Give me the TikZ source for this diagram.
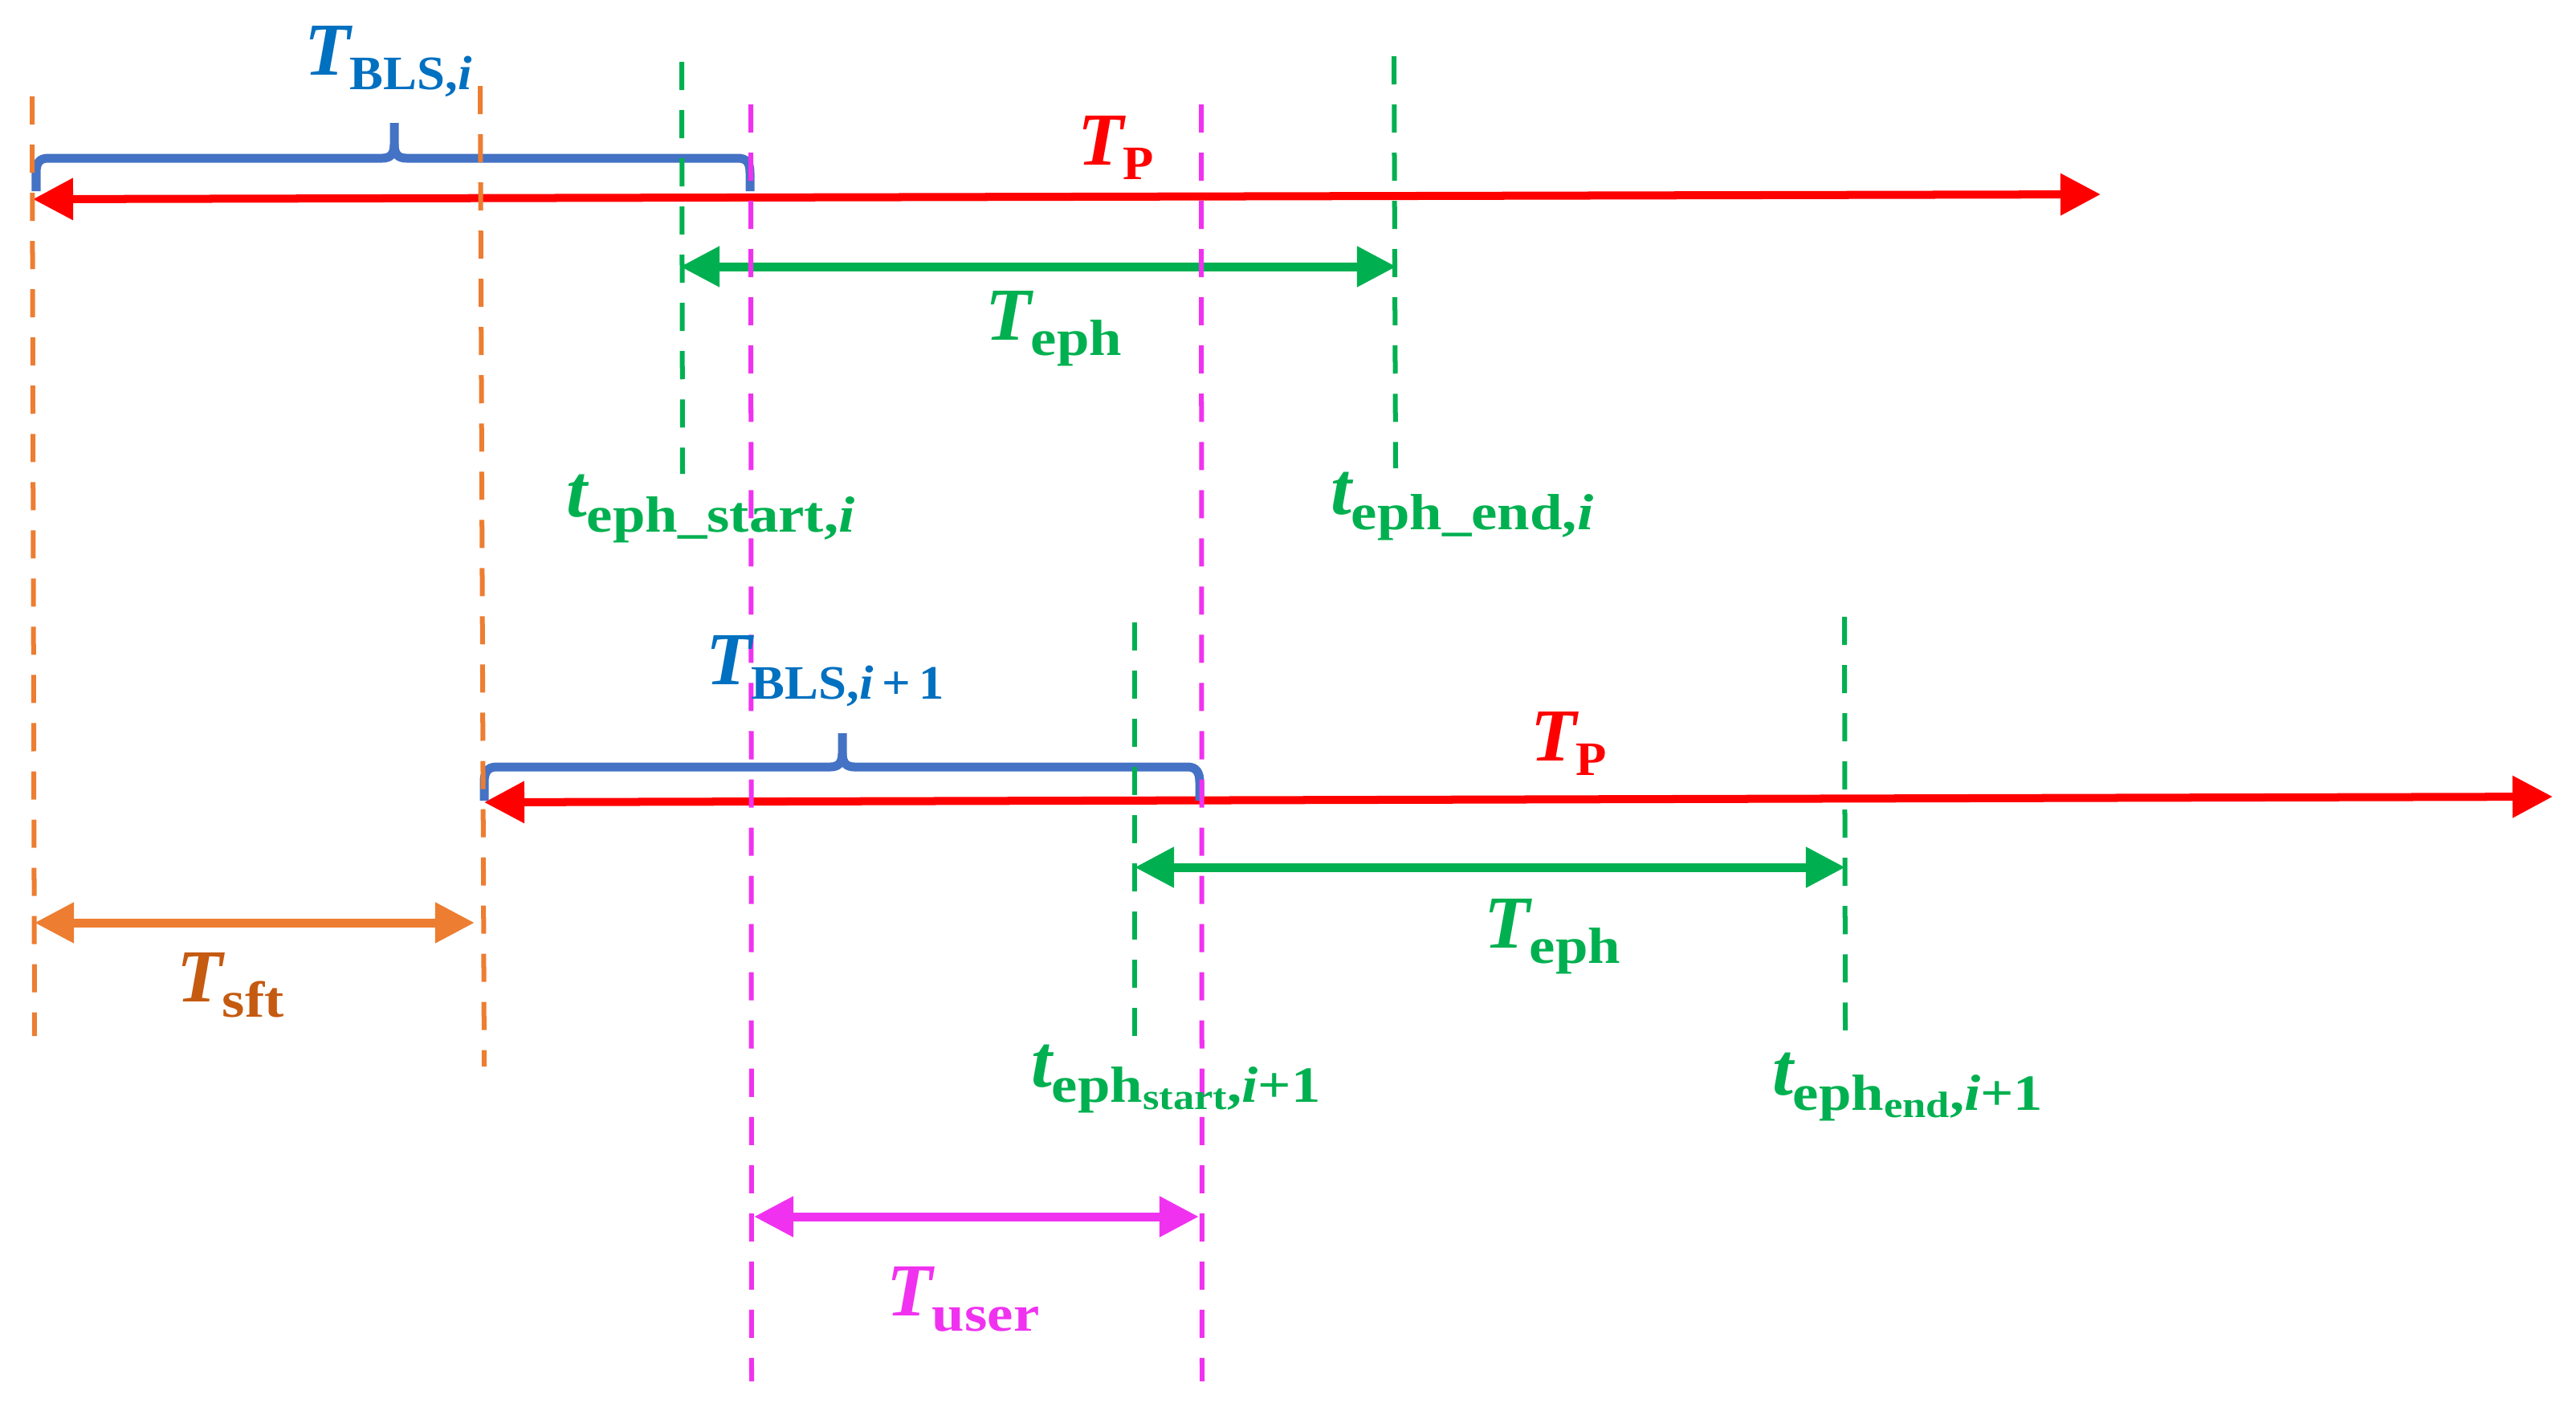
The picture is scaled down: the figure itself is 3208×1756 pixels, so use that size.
\documentclass[tikz,border=0pt]{standalone}
\usepackage{graphicx}
\usepackage{fontspec}
\setmainfont{Liberation Serif}
\usetikzlibrary{arrows.meta}
\definecolor{redc}{RGB}{255,0,0}
\definecolor{bluebr}{RGB}{68,114,196}
\definecolor{bluetx}{RGB}{0,112,192}
\definecolor{greenc}{RGB}{0,176,80}
\definecolor{orangec}{RGB}{237,125,49}
\definecolor{orangetx}{RGB}{197,90,17}
\definecolor{magc}{RGB}{240,50,240}
\newcommand\mylab[2]{{\fontsize{26.5}{30}\selectfont\bfseries\itshape #1}\raisebox{-5.3pt}{\scalebox{1.05}[1]{\fontsize{17}{20}\selectfont\bfseries #2}}}
\newcommand\mylabw[2]{{\fontsize{26.5}{30}\selectfont\bfseries\itshape #1}\raisebox{-5.5pt}{\scalebox{1.15}[1]{\fontsize{18}{21}\selectfont\bfseries #2}}}
\newcommand\mysubsub[1]{\raisebox{-2.5pt}{\fontsize{13}{15}\selectfont #1}}
\begin{document}
\begin{tikzpicture}[x=0.01cm,y=-0.01cm,
  lab/.style={anchor=base west,inner sep=0pt,outer sep=0pt},
  dline/.style={line width=0.06cm,dash pattern=on 0.35cm off 0.25cm},
  redarr/.style={redc,line width=0.1cm,{Triangle[length=0.5cm,width=0.5cm]}-{Triangle[length=0.5cm,width=0.5cm]}},
  dimarr/.style={line width=0.11cm,{Triangle[length=0.49cm,width=0.48cm]}-{Triangle[length=0.49cm,width=0.48cm]}},
  bracepath/.style={bluebr,line width=0.11cm,line join=round}]
\useasboundingbox (0,0) rectangle (3208,1756);
% coordinates
\coordinate (r1a) at (41,248);   \coordinate (r1b) at (2616,242);
\coordinate (r2a) at (603,999);  \coordinate (r2b) at (3179,992);
\coordinate (g1a) at (847,332);  \coordinate (g1b) at (1739,332);
\coordinate (g2a) at (1413,1080);\coordinate (g2b) at (2298,1080);
\coordinate (oa) at (43,1149);   \coordinate (ob) at (591,1149);
\coordinate (ma) at (939,1515);  \coordinate (mb) at (1493,1515);
\coordinate (o1t) at (40,120);   \coordinate (o1b) at (43,1290);
\coordinate (o2t) at (598,107);  \coordinate (o2b) at (603,1328);
\coordinate (gl1t) at (849,77);  \coordinate (gl1b) at (850,590);
\coordinate (gl2t) at (1736,70); \coordinate (gl2b) at (1738,583);
\coordinate (gl3t) at (1413,775);\coordinate (gl3b) at (1413,1290);
\coordinate (gl4t) at (2297,768);\coordinate (gl4b) at (2298,1283);
\coordinate (m1t) at (935,130);  \coordinate (m1b) at (936,1720);
\coordinate (m2t) at (1496,130); \coordinate (m2b) at (1497,1720);
% arrows
\draw[redarr] (r1a) -- (r1b);
\draw[redarr] (r2a) -- (r2b);
\draw[dimarr,greenc] (g1a) -- (g1b);
\draw[dimarr,greenc] (g2a) -- (g2b);
\draw[dimarr,orangec] (oa) -- (ob);
\draw[dimarr,magc] (ma) -- (mb);
% braces
\draw[bracepath] (45,238) -- (45,215) .. controls (45,203) and (49,197) .. (60,197) -- (476,197) .. controls (486,197) and (491,192) .. (491,180) -- (491,153);
\draw[bracepath] (491,180) .. controls (491,192) and (496,197) .. (506,197) -- (919,197) .. controls (930,197) and (934,203) .. (934,215) -- (934,238);
\draw[bracepath] (603,997) -- (603,974) .. controls (603,962) and (607,955) .. (618,955) -- (1034,955) .. controls (1044,955) and (1049,950) .. (1049,938) -- (1049,913);
\draw[bracepath] (1049,938) .. controls (1049,950) and (1054,955) .. (1064,955) -- (1479,955) .. controls (1490,955) and (1494,962) .. (1494,974) -- (1494,997);
% dashed lines
\draw[dline,orangec] (o1t) -- (o1b);
\draw[dline,orangec] (o2t) -- (o2b);
\draw[dline,greenc] (gl1t) -- (gl1b);
\draw[dline,greenc] (gl2t) -- (gl2b);
\draw[dline,greenc] (gl3t) -- (gl3b);
\draw[dline,greenc] (gl4t) -- (gl4b);
\draw[dline,magc] (m1t) -- (m1b);
\draw[dline,magc] (m2t) -- (m2b);
% labels
\node[lab,text=bluetx] (tbls1) at (379,93) {\mylab{T}{BLS,\textit{i}}};
\node[lab,text=redc] (tp1) at (1342,205) {\mylab{T}{P}};
\node[lab,text=greenc] (teph1) at (1227,423) {\mylabw{T}{eph}};
\node[lab,text=greenc] (tstart1) at (705,643) {\mylabw{t}{eph\_start,\textit{i}}};
\node[lab,text=greenc] (tend1) at (1657,640) {\mylabw{t}{eph\_end,\textit{i}}};
\node[lab,text=bluetx] (tbls2) at (879,852) {\mylab{T}{BLS,\textit{i}\,+\,1}};
\node[lab,text=redc] (tp2) at (1906,947) {\mylab{T}{P}};
\node[lab,text=greenc] (teph2) at (1848,1180) {\mylabw{T}{eph}};
\node[lab,text=orangetx] (tsft) at (220,1247) {\mylabw{T}{sft}};
\node[lab,text=greenc] (tstart2) at (1284,1353) {\mylabw{t}{eph\mysubsub{start},\textit{i}+1}};
\node[lab,text=greenc] (tend2) at (2207,1363) {\mylabw{t}{eph\mysubsub{end},\textit{i}+1}};
\node[lab,text=magc] (tuser) at (1104,1638) {\mylabw{T}{user}};
\end{tikzpicture}
\end{document}
